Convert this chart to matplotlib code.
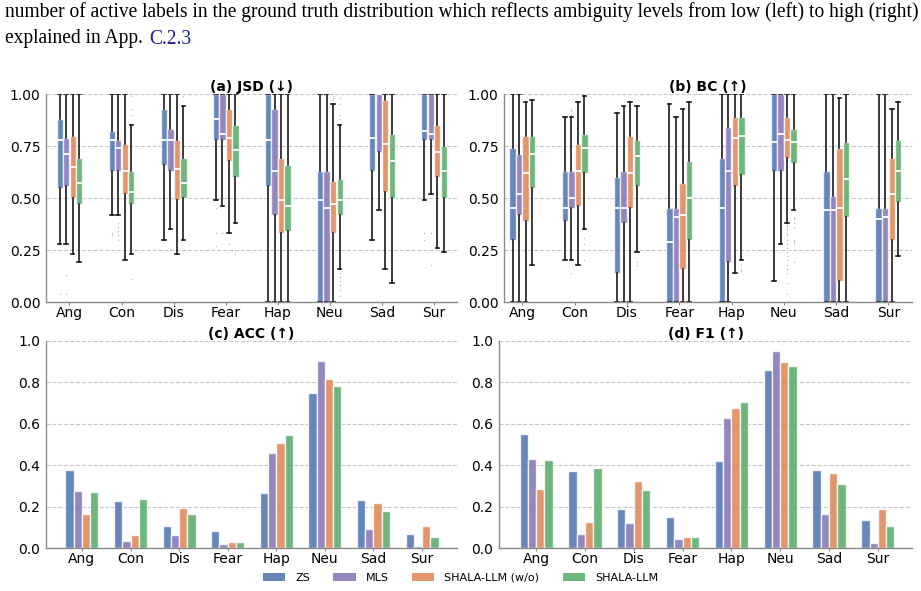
import numpy as np
import matplotlib
matplotlib.use("Agg")
import matplotlib.pyplot as plt
from matplotlib.colors import to_rgba
from matplotlib.patches import Patch

# ---------------- data ----------------
categories = ["Ang", "Con", "Dis", "Fear", "Hap", "Neu", "Sad", "Sur"]
methods = ["ZS", "MLS", "SHALA-LLM (w/o)", "SHALA-LLM"]
colors = ["#4c72b0", "#8172b3", "#dd8452", "#55a868"]

# JSD box stats: per method, per category -> (whislo, q1, med, q3, whishi)
jsd_zs = [(0.28, 0.55, 0.78, 0.88, 1.0), (0.42, 0.63, 0.78, 0.82, 1.0), (0.30, 0.66, 0.78, 0.93, 1.0),
          (0.49, 0.78, 0.88, 1.0, 1.0), (0.0, 0.56, 0.78, 1.0, 1.0), (0.0, 0.0, 0.49, 0.63, 1.0),
          (0.30, 0.63, 0.79, 1.0, 1.0), (0.49, 0.78, 0.82, 1.0, 1.0)]
jsd_mls = [(0.28, 0.56, 0.71, 0.79, 1.0), (0.42, 0.63, 0.74, 0.78, 1.0), (0.35, 0.63, 0.78, 0.83, 1.0),
           (0.46, 0.78, 0.81, 1.0, 1.0), (0.0, 0.42, 0.63, 0.93, 1.0), (0.0, 0.0, 0.45, 0.63, 1.0),
           (0.44, 0.72, 1.0, 1.0, 1.0), (0.52, 0.78, 0.81, 1.0, 1.0)]
jsd_wo = [(0.23, 0.50, 0.65, 0.80, 1.0), (0.20, 0.52, 0.63, 0.76, 1.0), (0.23, 0.49, 0.64, 0.78, 1.0),
          (0.33, 0.68, 0.79, 0.93, 1.0), (0.0, 0.33, 0.49, 0.69, 1.0), (0.0, 0.33, 0.47, 0.58, 0.95),
          (0.16, 0.53, 0.76, 0.97, 1.0), (0.26, 0.60, 0.72, 0.85, 1.0)]
jsd_shala = [(0.19, 0.47, 0.57, 0.69, 1.0), (0.23, 0.47, 0.53, 0.63, 0.85), (0.30, 0.50, 0.57, 0.69, 0.94),
             (0.38, 0.60, 0.73, 0.85, 1.0), (0.0, 0.34, 0.46, 0.66, 1.0), (0.16, 0.42, 0.49, 0.59, 0.85),
             (0.09, 0.50, 0.68, 0.81, 1.0), (0.24, 0.50, 0.63, 0.75, 1.0)]
jsd_fliers_zs = [[0.04], [0.33, 0.32], [], [0.45, 0.33, 0.27], [], [], [], [0.33, 0.30]]
jsd_fliers_mls = [[0.04, 0.13], [0.38, 0.36, 0.34, 0.32, 0.30], [0.25], [0.33], [], [], [], [0.33, 0.18]]
jsd_fliers_wo = [[], [], [], [0.28], [], [0.97, 0.98, 0.99, 1.0], [], []]
jsd_fliers_shala = [[], [0.11, 0.90, 0.93, 0.99], [0.99], [0.23], [],
                    [0.14, 0.12, 0.10, 0.08, 0.06, 0.03, 0.0, 0.88, 0.90, 0.95, 0.98], [], []]

# BC box stats
bc_zs = [(0.0, 0.30, 0.45, 0.74, 1.0), (0.20, 0.39, 0.45, 0.63, 0.89), (0.0, 0.14, 0.45, 0.60, 0.91),
         (0.0, 0.0, 0.29, 0.45, 0.95), (0.0, 0.0, 0.45, 0.69, 1.0), (0.10, 0.63, 0.77, 1.0, 1.0),
         (0.0, 0.0, 0.44, 0.63, 1.0), (0.0, 0.0, 0.40, 0.45, 1.0)]
bc_mls = [(0.0, 0.42, 0.52, 0.71, 1.0), (0.20, 0.45, 0.50, 0.63, 0.89), (0.0, 0.38, 0.45, 0.63, 0.94),
          (0.0, 0.0, 0.41, 0.45, 0.89), (0.0, 0.19, 0.63, 0.84, 1.0), (0.28, 0.63, 0.81, 1.0, 1.0),
          (0.0, 0.0, 0.44, 0.51, 1.0), (0.0, 0.0, 0.41, 0.45, 1.0)]
bc_wo = [(0.0, 0.39, 0.62, 0.80, 0.96), (0.18, 0.46, 0.63, 0.76, 0.96), (0.0, 0.45, 0.62, 0.80, 0.96),
         (0.0, 0.16, 0.42, 0.57, 0.93), (0.14, 0.56, 0.79, 0.89, 1.0), (0.38, 0.69, 0.78, 0.89, 1.0),
         (0.0, 0.10, 0.45, 0.74, 0.98), (0.0, 0.30, 0.52, 0.69, 0.93)]
bc_shala = [(0.18, 0.55, 0.71, 0.80, 0.97), (0.35, 0.62, 0.74, 0.81, 0.99), (0.24, 0.56, 0.70, 0.78, 0.94),
            (0.0, 0.30, 0.50, 0.68, 0.96), (0.20, 0.61, 0.80, 0.89, 1.0), (0.44, 0.67, 0.77, 0.83, 1.0),
            (0.0, 0.41, 0.59, 0.77, 1.0), (0.22, 0.48, 0.63, 0.78, 0.96)]
bc_fliers_zs = [[], [], [], [], [], [], [], []]
bc_fliers_mls = [[], [0.14, 0.0, 0.90, 0.92, 0.93], [], [], [], [], [], []]
bc_fliers_wo = [[], [], [], [], [],
                [0.37, 0.36, 0.35, 0.33, 0.32, 0.30, 0.28, 0.26, 0.24, 0.22, 0.20, 0.18, 0.16, 0.14, 0.09, 0.04, 0.0],
                [], []]
bc_fliers_shala = [[], [0.31, 0.28, 0.20], [0.19, 0.18], [], [0.18, 0.16, 0.15],
                   [0.41, 0.40, 0.38, 0.36, 0.30, 0.29, 0.28, 0.19], [], []]

# ACC and F1 bars
acc_zs = [0.375, 0.225, 0.105, 0.08, 0.265, 0.75, 0.23, 0.07]
acc_mls = [0.275, 0.035, 0.065, 0.02, 0.46, 0.905, 0.09, 0.01]
acc_wo = [0.165, 0.065, 0.195, 0.03, 0.505, 0.815, 0.215, 0.105]
acc_shala = [0.27, 0.235, 0.165, 0.03, 0.545, 0.785, 0.18, 0.055]

f1_zs = [0.55, 0.37, 0.19, 0.15, 0.42, 0.86, 0.375, 0.135]
f1_mls = [0.43, 0.07, 0.12, 0.045, 0.63, 0.95, 0.165, 0.025]
f1_wo = [0.285, 0.125, 0.325, 0.055, 0.675, 0.90, 0.36, 0.19]
f1_shala = [0.425, 0.385, 0.28, 0.055, 0.705, 0.88, 0.31, 0.105]

caption_line1 = "number of active labels in the ground truth distribution which reflects ambiguity levels from low (left) to high (right)"
caption_line2_a = "explained in App. "
caption_line2_b = "C.2.3"

# ---------------- figure ----------------
W, H = 921, 591
fig = plt.figure(figsize=(W / 100, H / 100), dpi=100)
plt.rcParams['font.family'] = ['DejaVu Sans']

def px_axes(x0, x1, y0, y1):
    return fig.add_axes([x0 / W, 1 - y1 / H, (x1 - x0) / W, (y1 - y0) / H])

ax_a = px_axes(46, 457, 94, 302)
ax_b = px_axes(504, 912, 94, 302)
ax_c = px_axes(46, 457, 341, 548)
ax_d = px_axes(499, 912, 341, 548)

spine_col = "#8a8a8a"

def style(ax):
    for s in ["top", "right"]:
        ax.spines[s].set_visible(False)
    for s in ["left", "bottom"]:
        ax.spines[s].set_color(spine_col)
        ax.spines[s].set_linewidth(1.0)
    ax.yaxis.grid(True, linestyle="--", color="#c8c8c8", linewidth=0.8)
    ax.set_axisbelow(True)
    ax.tick_params(axis="both", colors=spine_col, labelcolor="black", labelsize=10)
    ax.tick_params(axis="x", length=2, pad=1)
    ax.tick_params(axis="y", length=0, pad=4)

def draw_box(ax, stats_list, fliers_list, title, xlim):
    bw = 0.125
    for m, (stats, fl) in enumerate(zip(stats_list, fliers_list)):
        off = (m - 1.5) * bw
        bxs = []
        for i, (lo, q1, med, q3, hi) in enumerate(stats):
            bxs.append(dict(whislo=lo, q1=q1, med=med, q3=q3, whishi=hi, fliers=fl[i], label=categories[i]))
        pos = np.arange(len(categories)) + off
        ax.bxp(bxs, positions=pos, widths=bw * 0.97, patch_artist=True, manage_ticks=False,
               boxprops=dict(facecolor=to_rgba(colors[m], 0.85), edgecolor=(1, 1, 1, 0.75), linewidth=1.0),
               medianprops=dict(color="white", linewidth=1.3),
               whiskerprops=dict(color="#1a1a1a", linewidth=1.2),
               capprops=dict(color="#1a1a1a", linewidth=1.2),
               flierprops=dict(marker=".", markersize=2.0, markerfacecolor="#999999",
                               markeredgecolor="none", alpha=0.7),
               capwidths=bw * 0.55, zorder=2)
    ax.set_xticks(np.arange(len(categories)))
    ax.set_xticklabels(categories)
    ax.set_xlim(*xlim)
    ax.set_ylim(0, 1.0)
    ax.set_yticks([0, 0.25, 0.5, 0.75, 1.0])
    ax.set_yticklabels(["0.00", "0.25", "0.50", "0.75", "1.00"])
    ax.set_title(title, fontsize=10, fontweight="bold", pad=2)
    style(ax)

def draw_bars(ax, series, title, xlim):
    bw = 0.17
    x = np.arange(len(categories))
    for m, vals in enumerate(series):
        ax.bar(x + (m - 1.5) * bw, vals, width=bw, color=to_rgba(colors[m], 0.85),
               edgecolor=(1, 1, 1, 0.8), linewidth=1.0, zorder=2)
    ax.set_xticks(x)
    ax.set_xticklabels(categories)
    ax.set_xlim(*xlim)
    ax.set_ylim(0, 1.0)
    ax.set_yticks([0, 0.2, 0.4, 0.6, 0.8, 1.0])
    ax.set_yticklabels(["0.0", "0.2", "0.4", "0.6", "0.8", "1.0"])
    ax.set_title(title, fontsize=10, fontweight="bold", pad=2)
    style(ax)

draw_box(ax_a, [jsd_zs, jsd_mls, jsd_wo, jsd_shala],
         [jsd_fliers_zs, jsd_fliers_mls, jsd_fliers_wo, jsd_fliers_shala], "(a) JSD (↓)", (-0.45, 7.44))
draw_box(ax_b, [bc_zs, bc_mls, bc_wo, bc_shala],
         [bc_fliers_zs, bc_fliers_mls, bc_fliers_wo, bc_fliers_shala], "(b) BC (↑)", (-0.35, 7.45))
draw_bars(ax_c, [acc_zs, acc_mls, acc_wo, acc_shala], "(c) ACC (↑)", (-0.74, 7.72))
draw_bars(ax_d, [f1_zs, f1_mls, f1_wo, f1_shala], "(d) F1 (↑)", (-0.76, 7.7))

handles = [Patch(facecolor=to_rgba(c, 0.85), edgecolor="none") for c in colors]
fig.legend(handles, methods, loc="center", bbox_to_anchor=(0.5, 1 - 578 / H), ncol=4,
           frameon=False, fontsize=8, handlelength=2.0, handleheight=0.7,
           handletextpad=0.9, columnspacing=2.1)

# caption text (serif), fitted to the page width
serif = ["Liberation Serif", "DejaVu Serif"]
t1 = fig.text(5 / W, 1 - 12 / H, caption_line1, fontsize=13, family=serif, va="center", ha="left")
fig.canvas.draw()
r = fig.canvas.get_renderer()
wpx = t1.get_window_extent(r).width
fs = 13 * (910 / wpx)
t1.set_fontsize(fs)
t2 = fig.text(5 / W, 1 - 39 / H, caption_line2_a, fontsize=fs, family=serif, va="center", ha="left")
fig.canvas.draw()
e = t2.get_window_extent(r)
fig.text((e.x1 + 1) / W, 1 - 39 / H, caption_line2_b, fontsize=fs, family=serif, va="center",
         ha="left", color="#1c1c9c")

fig.savefig("out.png", dpi=100)
